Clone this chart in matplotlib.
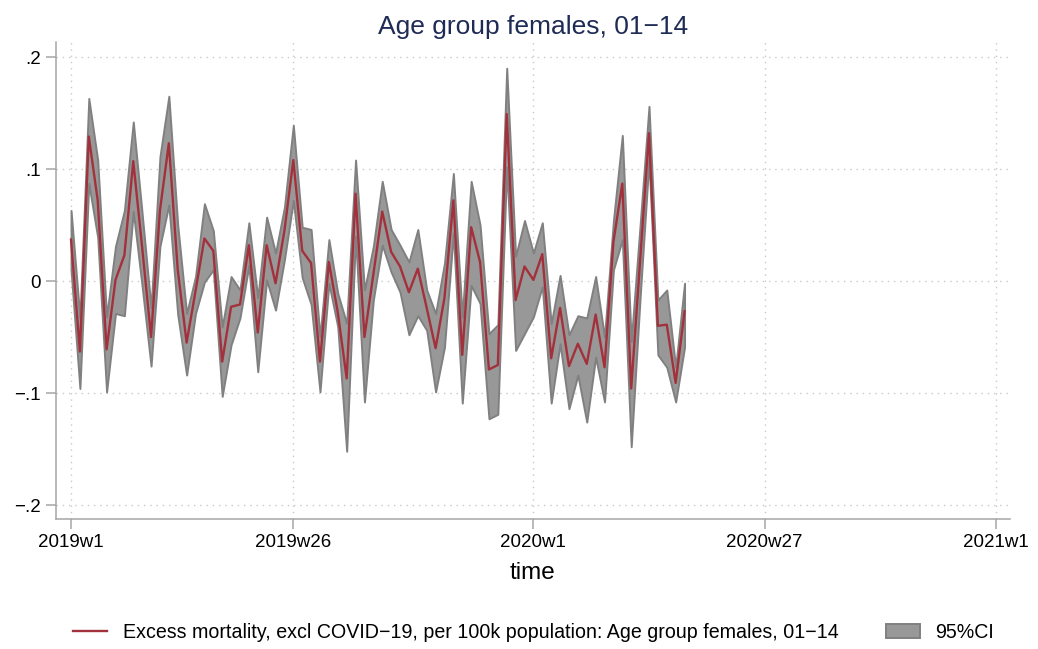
import numpy as np
import matplotlib

matplotlib.use("Agg")
import matplotlib.pyplot as plt
from matplotlib.lines import Line2D
from matplotlib.patches import Patch

plt.rcParams["font.family"] = ["Liberation Sans", "DejaVu Sans"]

# weekly series, 2019w1 .. 2020w18 (Stata weeks: 52 per year)
week = np.arange(70)
excess = [
    0.037, -0.063, 0.129, 0.072, -0.061, 0.001, 0.023, 0.107, 0.030, -0.050,
    0.063, 0.123, 0.010, -0.055, -0.009, 0.038, 0.027, -0.072, -0.023, -0.021,
    0.032, -0.046, 0.032, -0.002, 0.045, 0.108, 0.027, 0.016, -0.072, 0.017,
    -0.028, -0.087, 0.078, -0.050, 0.006, 0.062, 0.026, 0.013, -0.010, 0.011,
    -0.024, -0.060, -0.015, 0.072, -0.066, 0.048, 0.017, -0.079, -0.075, 0.149,
    -0.017, 0.013, 0.001, 0.024, -0.069, -0.024, -0.076, -0.056, -0.074, -0.030,
    -0.077, 0.035, 0.087, -0.096, 0.018, 0.132, -0.040, -0.039, -0.091, -0.027,
]
ci_hi = [
    0.063, -0.033, 0.163, 0.108, -0.032, 0.031, 0.063, 0.142, 0.060, -0.024,
    0.111, 0.165, 0.050, -0.029, 0.004, 0.069, 0.045, -0.041, 0.004, -0.008,
    0.052, -0.015, 0.057, 0.025, 0.066, 0.139, 0.048, 0.046, -0.050, 0.037,
    -0.011, -0.038, 0.108, -0.008, 0.031, 0.089, 0.046, 0.032, 0.017, 0.046,
    -0.008, -0.029, 0.016, 0.096, -0.032, 0.089, 0.050, -0.047, -0.039, 0.190,
    0.022, 0.054, 0.025, 0.052, -0.038, 0.005, -0.048, -0.031, -0.033, 0.004,
    -0.050, 0.054, 0.130, -0.054, 0.050, 0.156, -0.017, -0.008, -0.077, -0.002,
]
ci_lo = [
    0.010, -0.096, 0.087, 0.039, -0.099, -0.029, -0.031, 0.062, -0.005, -0.076,
    0.031, 0.068, -0.030, -0.084, -0.029, -0.001, 0.010, -0.103, -0.057, -0.033,
    0.014, -0.081, 0.001, -0.026, 0.019, 0.072, 0.003, -0.021, -0.099, -0.002,
    -0.041, -0.152, 0.040, -0.108, -0.017, 0.032, 0.008, -0.010, -0.048, -0.031,
    -0.044, -0.099, -0.059, 0.043, -0.109, -0.004, -0.020, -0.123, -0.119, 0.102,
    -0.062, -0.047, -0.032, -0.005, -0.109, -0.056, -0.114, -0.084, -0.126, -0.068,
    -0.108, 0.010, 0.037, -0.148, -0.015, 0.108, -0.066, -0.077, -0.108, -0.059,
]

xticks = [0, 25, 52, 78, 104]
xticklabels = ["2019w1", "2019w26", "2020w1", "2020w27", "2021w1"]
yticks = [-0.2, -0.1, 0, 0.1, 0.2]
yticklabels = ["\u2212.2", "\u2212.1", "0", ".1", ".2"]

RED = "#a3313c"
BAND = "#989898"
BAND_EDGE = "#808080"
AXC = "#a6a6a6"
GRID = "#c9c9c9"
NAVY = "#1e2b55"

fig = plt.figure(figsize=(10.38, 6.49), dpi=100)
ax = fig.add_axes([56 / 1038, 1 - 519 / 649, 954 / 1038, 477 / 649])

ax.fill_between(week, ci_lo, ci_hi, facecolor=BAND, edgecolor=BAND_EDGE,
                linewidth=1.4, zorder=2)
ax.plot(week, excess, color=RED, lw=1.7, zorder=3)

ax.set_xlim(-1.69, 105.6)
ax.set_ylim(-0.2125, 0.2134)
ax.set_xticks(xticks)
ax.set_xticklabels(xticklabels)
ax.set_yticks(yticks)
ax.set_yticklabels(yticklabels)
ax.tick_params(axis="both", colors=AXC, labelcolor="black", labelsize=13.5,
               length=7, width=1.1)
ax.tick_params(axis="x", pad=4)
ax.tick_params(axis="y", pad=4)

for side in ("top", "right"):
    ax.spines[side].set_visible(False)
for side in ("left", "bottom"):
    ax.spines[side].set_color(AXC)
    ax.spines[side].set_linewidth(1.1)

ax.grid(True, color=GRID, linestyle=(0, (1, 3.5)), linewidth=1.0, zorder=0)
ax.set_axisbelow(True)

ax.set_title("Age group females, 01\u221214", color=NAVY, fontsize=19,
             pad=6)
ax.set_xlabel("time", fontsize=17.5, labelpad=8)

handles = [
    Line2D([], [], color=RED, lw=1.7),
    Patch(facecolor=BAND, edgecolor=BAND_EDGE, linewidth=1.4),
]
labels = [
    "Excess mortality, excl COVID\u221219, per 100k population: "
    "Age group females, 01\u221214",
    "95%CI",
]
fig.legend(handles, labels, loc="center", bbox_to_anchor=(0.514, 1 - 632 / 649),
           ncol=2, frameon=False, fontsize=14.1, handlelength=1.75,
           handleheight=0.7, handletextpad=0.8, columnspacing=2.4)

fig.savefig("out.png", dpi=100)
